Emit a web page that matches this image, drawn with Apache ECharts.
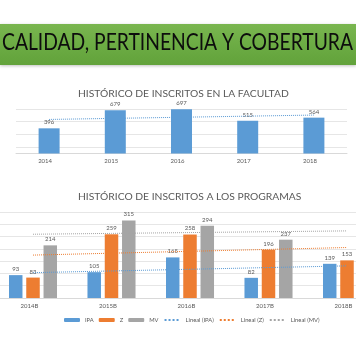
<!DOCTYPE html>
<html>
<head>
<meta charset="utf-8">
<script src="https://cdn.jsdelivr.net/npm/echarts@6/dist/echarts.min.js"></script>
<style>
html,body{margin:0;padding:0;background:#fff;}
#c{width:356px;height:364px;}
</style>
</head>
<body>
<div id="c"></div>
<script>
// ---- data ----
var bannerText = 'CALIDAD, PERTINENCIA Y COBERTURA';
var title1 = 'HISTÓRICO DE INSCRITOS EN LA FACULTAD';
var title2 = 'HISTÓRICO DE INSCRITOS A LOS PROGRAMAS';
var years1 = ['2014', '2015', '2016', '2017', '2018'];
var facultad = [396, 679, 697, 515, 564];
var years2 = ['2014B', '2015B', '2016B', '2017B', '2018B'];
var ipa = [93, 105, 165, 82, 139];
var z = [83, 259, 258, 196, 153];
var mv = [214, 315, 294, 237, 270];
var seriesNames = ['IPA', 'Z', 'MV'];
var trendNames = ['Lineal (IPA)', 'Lineal (Z)', 'Lineal (MV)'];

// linear least-squares trend (as Excel's "Lineal" trendline)
function trend(arr) {
  var n = arr.length, sx = 0, sy = 0, sxy = 0, sxx = 0;
  for (var i = 0; i < n; i++) { var x = i + 1; sx += x; sy += arr[i]; sxy += x * arr[i]; sxx += x * x; }
  var b = (n * sxy - sx * sy) / (n * sxx - sx * sx);
  var a = (sy - b * sx) / n;
  return arr.map(function (_, i) { return +(a + b * (i + 1)).toFixed(2); });
}

var FONT = 'Lato';
var TXT = '#595959';
var BLUE = '#5b9bd5', ORANGE = '#ed7d31', GRAY = '#a5a5a5';

// fit banner text width (Calibri-like narrow look)
var BANNER_SIZE = 23, BANNER_W = 351;
var mctx = document.createElement('canvas').getContext('2d');
mctx.font = BANNER_SIZE + 'px ' + FONT;
var bannerScale = BANNER_W / mctx.measureText(bannerText).width;

var chart = echarts.init(document.getElementById('c'), null, {renderer: 'canvas'});

var labelCfg = {show: true, position: 'top', distance: 3, fontSize: 6, color: TXT, fontFamily: FONT};

var option = {
  backgroundColor: '#ffffff',
  animation: false,
  textStyle: {fontFamily: FONT},
  graphic: [
    {
      type: 'rect', left: 0, top: 24, z: 0,
      shape: {width: 356, height: 41},
      style: {
        fill: new echarts.graphic.LinearGradient(0, 0, 0, 1, [
          {offset: 0, color: '#7ab650'},
          {offset: 0.5, color: '#6cac44'},
          {offset: 1, color: '#62a23b'}
        ]),
        shadowBlur: 3, shadowColor: 'rgba(0,0,0,0.25)', shadowOffsetY: 1
      }
    },
    {
      type: 'text', x: 2, y: 31.5, z: 1, scaleX: bannerScale, originX: 0,
      style: {text: bannerText, fontFamily: FONT, fontSize: BANNER_SIZE, fill: '#0d0d0d'}
    },
    {
      type: 'text', left: 78, top: 88.5, z: 1,
      style: {text: title1, fontFamily: FONT, fontSize: 10.3, fill: TXT}
    },
    {
      type: 'text', left: 78, top: 192, z: 1,
      style: {text: title2, fontFamily: FONT, fontSize: 10.3, fill: TXT}
    }
  ],
  legend: {
    left: 64, top: 317, width: 400, padding: 0,
    itemWidth: 16, itemHeight: 4, itemGap: 5,
    textStyle: {fontSize: 5.8, color: TXT, fontFamily: FONT},
    data: [
      {name: seriesNames[0]}, {name: seriesNames[1]}, {name: seriesNames[2]},
      {name: trendNames[0], itemStyle: {opacity: 0}},
      {name: trendNames[1], itemStyle: {opacity: 0}},
      {name: trendNames[2], itemStyle: {opacity: 0}}
    ]
  },
  grid: [
    {left: 16, width: 331, top: 109, height: 44.5, outerBoundsMode: 'none', containLabel: false},
    {left: -6.25, width: 392.5, top: 211.9, height: 86.1, outerBoundsMode: 'none', containLabel: false}
  ],
  xAxis: [
    {
      type: 'category', gridIndex: 0, data: years1,
      axisLine: {lineStyle: {color: '#d9d9d9'}},
      axisTick: {show: false},
      axisLabel: {fontSize: 6, color: TXT, margin: 5, fontFamily: FONT, padding: [0, 8, 0, 0]}
    },
    {
      type: 'category', gridIndex: 1, data: years2,
      axisLine: {lineStyle: {color: '#d9d9d9'}},
      axisTick: {show: false},
      axisLabel: {fontSize: 6, color: TXT, margin: 5, fontFamily: FONT, padding: [0, 7, 0, 0]}
    }
  ],
  yAxis: [
    {
      type: 'value', gridIndex: 0, min: 0, max: 700, interval: 100,
      axisLabel: {show: false}, axisLine: {show: false}, axisTick: {show: false},
      splitLine: {lineStyle: {color: ['#d9d9d9', '#e6e6e6', 'rgba(0,0,0,0)', '#e6e6e6', 'rgba(0,0,0,0)', '#e6e6e6', 'rgba(0,0,0,0)', '#e6e6e6'], width: 1}}
    },
    {
      type: 'value', gridIndex: 1, min: 0, max: 350, interval: 50,
      axisLabel: {show: false}, axisLine: {show: false}, axisTick: {show: false},
      splitLine: {lineStyle: {color: '#e6e6e6', width: 1}}
    }
  ],
  series: [
    {
      type: 'bar', name: 'Inscritos', xAxisIndex: 0, yAxisIndex: 0, data: facultad,
      barWidth: 21, itemStyle: {color: BLUE}, label: labelCfg
    },
    {
      type: 'line', name: 'Lineal (Inscritos)', xAxisIndex: 0, yAxisIndex: 0, data: trend(facultad),
      symbol: 'none', lineStyle: {color: BLUE, type: 'dotted', width: 1}, z: 3
    },
    {
      type: 'bar', name: seriesNames[0], xAxisIndex: 1, yAxisIndex: 1, data: ipa,
      barWidth: 13.5, barGap: '28%', itemStyle: {color: BLUE}, label: labelCfg
    },
    {
      type: 'bar', name: seriesNames[1], xAxisIndex: 1, yAxisIndex: 1, data: z,
      barWidth: 13.5, barGap: '28%', itemStyle: {color: ORANGE}, label: labelCfg
    },
    {
      type: 'bar', name: seriesNames[2], xAxisIndex: 1, yAxisIndex: 1, data: mv,
      barWidth: 13.5, barGap: '28%', itemStyle: {color: GRAY}, label: labelCfg
    },
    {
      type: 'line', name: trendNames[0], xAxisIndex: 1, yAxisIndex: 1, data: trend(ipa),
      symbol: 'none', lineStyle: {color: BLUE, type: 'dotted', width: 1}, itemStyle: {color: BLUE}, z: 3
    },
    {
      type: 'line', name: trendNames[1], xAxisIndex: 1, yAxisIndex: 1, data: trend(z),
      symbol: 'none', lineStyle: {color: ORANGE, type: 'dotted', width: 1}, itemStyle: {color: ORANGE}, z: 3
    },
    {
      type: 'line', name: trendNames[2], xAxisIndex: 1, yAxisIndex: 1, data: trend(mv),
      symbol: 'none', lineStyle: {color: GRAY, type: 'dotted', width: 1}, itemStyle: {color: GRAY}, z: 3
    }
  ]
};
chart.setOption(option);
</script>
</body>
</html>
